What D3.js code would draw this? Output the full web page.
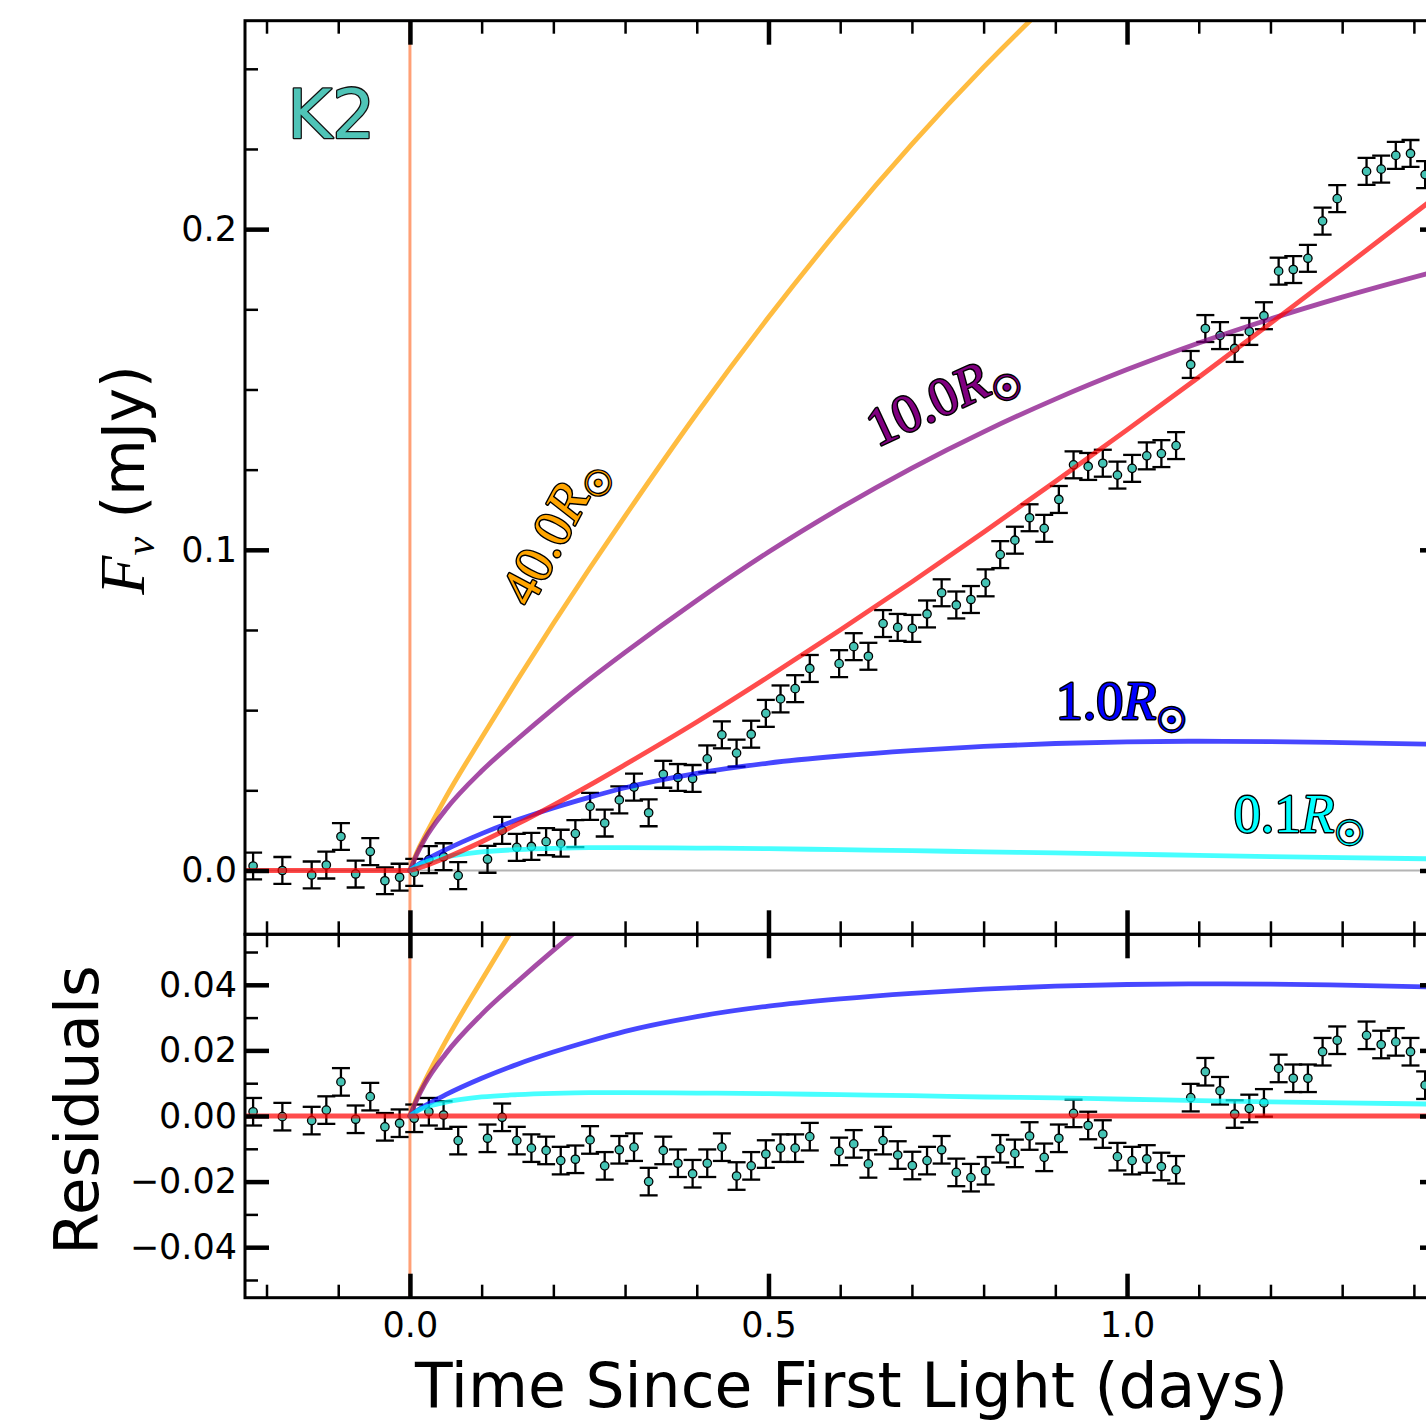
<!DOCTYPE html>
<html>
<head>
<meta charset="utf-8">
<script src="https://cdn.jsdelivr.net/npm/d3@7"></script>
<style>
  html, body { margin: 0; padding: 0; background: #ffffff; }
  svg { display: block; }
</style>
</head>
<body>
<svg id="chart" width="1426" height="1421"></svg>
<script>
// ---------------- K2 light curve: observation times (days since first light) ----------------
const obsTime = [
  -0.2187, -0.1779, -0.1370, -0.1166, -0.0962, -0.0757, -0.0553, -0.0349, -0.0144,
   0.0060,  0.0264,  0.0469,  0.0673,  0.1082,  0.1286,  0.1490,  0.1694,  0.1899,
   0.2103,  0.2307,  0.2512,  0.2716,  0.2920,  0.3125,  0.3329,  0.3533,  0.3737,
   0.3942,  0.4146,  0.4350,  0.4555,  0.4759,  0.4963,  0.5168,  0.5372,  0.5576,
   0.5985,  0.6189,  0.6393,  0.6598,  0.6802,  0.7006,  0.7211,  0.7415,  0.7619,
   0.7823,  0.8028,  0.8232,  0.8436,  0.8641,  0.8845,  0.9049,  0.9254,  0.9458,
   0.9662,  0.9866,  1.0071,  1.0275,  1.0479,  1.0684,  1.0888,  1.1092,  1.1297,
   1.1501,  1.1705,  1.1909,  1.2114,  1.2318,  1.2522,  1.2727,  1.2931,  1.3340,
   1.3544,  1.3748,  1.3953,  1.4157
];

// flux density (mJy)
const obsFlux = [
   0.0014,  0.0000, -0.0014,  0.0017,  0.0106, -0.0011,  0.0059, -0.0032, -0.0021,
  -0.0006,  0.0034,  0.0043, -0.0016,  0.0035,  0.0125,  0.0072,  0.0075,  0.0090,
   0.0085,  0.0115,  0.0200,  0.0148,  0.0220,  0.0260,  0.0180,  0.0300,  0.0290,
   0.0287,  0.0348,  0.0423,  0.0366,  0.0425,  0.0490,  0.0535,  0.0567,  0.0630,
   0.0645,  0.0698,  0.0668,  0.0770,  0.0758,  0.0755,  0.0800,  0.0866,  0.0828,
   0.0845,  0.0897,  0.0985,  0.1030,  0.1100,  0.1067,  0.1157,  0.1265,  0.1260,
   0.1270,  0.1233,  0.1254,  0.1293,  0.1300,  0.1325,  0.1578,  0.1690,  0.1668,
   0.1628,  0.1681,  0.1730,  0.1869,  0.1874,  0.1909,  0.2025,  0.2095,  0.2180,
   0.2187,  0.2230,  0.2236,  0.2170
];

// residuals relative to the power-law fit (mJy)
const obsResid = [
   0.0013, -0.0002, -0.0014,  0.0018,  0.0104, -0.0010,  0.0059, -0.0033, -0.0022,
  -0.0007,  0.0013,  0.0003, -0.0075, -0.0068, -0.0004, -0.0075, -0.0098, -0.0105,
  -0.0136, -0.0132, -0.0073, -0.0152, -0.0103, -0.0095, -0.0200, -0.0105, -0.0144,
  -0.0176, -0.0144, -0.0095, -0.0183, -0.0152, -0.0116, -0.0098, -0.0098, -0.0063,
  -0.0108, -0.0085, -0.0146, -0.0075, -0.0119, -0.0151, -0.0136, -0.0103, -0.0172,
  -0.0188, -0.0167, -0.0100, -0.0114, -0.0061, -0.0126, -0.0068,  0.0008, -0.0029,
  -0.0055, -0.0124, -0.0136, -0.0131, -0.0154, -0.0164,  0.0056,  0.0135,  0.0077,
   0.0006,  0.0023,  0.0040,  0.0145,  0.0115,  0.0115,  0.0196,  0.0231,  0.0246,
   0.0218,  0.0226,  0.0196,  0.0094
];

// 1-sigma flux uncertainty per cadence (mJy)
const fluxErr = 0.0042;

// ---------------- model curves (sampled after first light) ----------------
const modelTime = [0, 0.01, 0.02, 0.05, 0.10, 0.15, 0.20, 0.25, 0.30, 0.40, 0.50,
                   0.60, 0.70, 0.80, 0.90, 1.00, 1.10, 1.20, 1.30, 1.44];

const model40 = [0, 0.0058, 0.0103, 0.0228, 0.0414, 0.0595, 0.0770, 0.0940, 0.1105, 0.1425, 0.1725,
                 0.2005, 0.2265, 0.2505, 0.2725, 0.2925, 0.3110, 0.3280, 0.3440, 0.3650];
const model10 = [0, 0.0052, 0.0095, 0.0190, 0.0310, 0.0410, 0.0505, 0.0595, 0.0680, 0.0842, 0.0993,
                 0.1130, 0.1255, 0.1368, 0.1470, 0.1562, 0.1645, 0.1720, 0.1788, 0.1874];
const model1  = [0, 0.0016, 0.0030, 0.0065, 0.0115, 0.0158, 0.0195, 0.0228, 0.0258, 0.0303, 0.0335,
                 0.0357, 0.0374, 0.0387, 0.0396, 0.0401, 0.0403, 0.0402, 0.0399, 0.0393];
const model01 = [0, 0.0015, 0.0025, 0.0042, 0.0058, 0.0065, 0.0069, 0.0071, 0.0071, 0.0070, 0.0068,
                 0.0065, 0.0062, 0.0058, 0.0055, 0.0051, 0.0047, 0.0043, 0.0040, 0.0036];
const fitModel = [0, 0.00058, 0.00133, 0.00394, 0.00895, 0.0145, 0.0204, 0.02655, 0.0330, 0.0463, 0.0604,
                  0.0750, 0.0900, 0.1055, 0.1213, 0.1374, 0.1538, 0.1706, 0.1876, 0.2117];

const radiusLabels = ["40.0", "10.0", "1.0", "0.1"];

// ---------------- axis ticks ----------------
const xMajor = [0, 0.5, 1.0];
const xMinor = [-0.2, -0.1, 0.1, 0.2, 0.3, 0.4, 0.6, 0.7, 0.8, 0.9, 1.1, 1.2, 1.3, 1.4];
const fluxMajor = [0, 0.1, 0.2];
const fluxMinor = [0.025, 0.05, 0.075, 0.125, 0.15, 0.175, 0.225, 0.25];
const residMajor = [-0.04, -0.02, 0, 0.02, 0.04];
const residMinor = [-0.05, -0.03, -0.01, 0.01, 0.03, 0.05];

// ---------------- layout ----------------
const svg = d3.select("#chart");
const L = 245, R = 1444, T = 20.7, M = 934.3, B = 1297.7;

const x = d3.scaleLinear().domain([-0.23, 1.442]).range([L, R]);
const yF = d3.scaleLinear().domain([-0.0199, 0.265]).range([M, T]);
const yR = d3.scaleLinear().domain([-0.0554, 0.0554]).range([B, M]);

const defs = svg.append("defs");
defs.append("clipPath").attr("id", "clipTop")
  .append("rect").attr("x", L).attr("y", T).attr("width", R - L).attr("height", M - T);
defs.append("clipPath").attr("id", "clipRes")
  .append("rect").attr("x", L).attr("y", M).attr("width", R - L).attr("height", B - M);

const pts = obsTime.map((t, i) => ({ t, f: obsFlux[i], r: obsResid[i] }));

const modelStyles = [
  { vals: model40, color: "#ffa500", op: 0.75 },
  { vals: model10, color: "#800080", op: 0.70 },
  { vals: model1,  color: "#0000ff", op: 0.72 },
  { vals: model01, color: "#00ffff", op: 0.72 }
];

function drawPanel(g, yScale, key, clipId, isTop) {
  const layer = g.append("g").attr("clip-path", `url(#${clipId})`);

  // first-light marker
  layer.append("line")
    .attr("x1", x(0)).attr("x2", x(0))
    .attr("y1", yScale.range()[0]).attr("y2", yScale.range()[1])
    .attr("stroke", "#ff8f5e").attr("stroke-opacity", 0.85).attr("stroke-width", 3);

  if (isTop) {
    layer.append("line")
      .attr("x1", L).attr("x2", R).attr("y1", yScale(0)).attr("y2", yScale(0))
      .attr("stroke", "#b4b4b4").attr("stroke-width", 2);
  }

  // error bars
  const eb = layer.append("g").attr("stroke", "#000").attr("stroke-width", 2.3);
  pts.forEach(p => {
    const v = p[key];
    const cx = x(p.t), y0 = yScale(v - fluxErr), y1 = yScale(v + fluxErr);
    eb.append("line").attr("x1", cx).attr("x2", cx).attr("y1", y0).attr("y2", y1);
    eb.append("line").attr("x1", cx - 9).attr("x2", cx + 9).attr("y1", y0).attr("y2", y0);
    eb.append("line").attr("x1", cx - 9).attr("x2", cx + 9).attr("y1", y1).attr("y2", y1);
  });
  layer.append("g").selectAll("circle").data(pts).join("circle")
    .attr("cx", d => x(d.t)).attr("cy", d => yScale(d[key]))
    .attr("r", 4.2).attr("fill", "#45c3b4").attr("stroke", "#000").attr("stroke-width", 1.3);

  // model curves
  const curve = d3.line().x((d, i) => x(modelTime[i])).y(d => yScale(d)).curve(d3.curveMonotoneX);
  const flat = d3.line().x(d => x(d)).y(() => yScale(0));
  modelStyles.forEach(m => {
    layer.append("path").attr("d", curve(m.vals))
      .attr("fill", "none").attr("stroke", m.color).attr("stroke-opacity", m.op)
      .attr("stroke-width", 4.8).attr("stroke-linecap", "round");
  });
  // power-law fit (zero in the residual panel)
  layer.append("path").attr("d", flat([x.domain()[0], 0]))
    .attr("fill", "none").attr("stroke", "#ff0000").attr("stroke-opacity", 0.7).attr("stroke-width", 4.8);
  if (isTop) {
    layer.append("path").attr("d", curve(fitModel))
      .attr("fill", "none").attr("stroke", "#ff0000").attr("stroke-opacity", 0.7).attr("stroke-width", 4.8);
  } else {
    layer.append("path").attr("d", flat([0, x.domain()[1]]))
      .attr("fill", "none").attr("stroke", "#ff0000").attr("stroke-opacity", 0.7).attr("stroke-width", 4.8);
  }
}

const gTop = svg.append("g");
const gRes = svg.append("g");
drawPanel(gTop, yF, "f", "clipTop", true);
drawPanel(gRes, yR, "r", "clipRes", false);

// ---------------- annotations ----------------
svg.append("text")
  .attr("x", x(-0.171)).attr("y", yF(0.2285))
  .attr("font-family", "DejaVu Sans").attr("font-size", 68)
  .attr("fill", "#4fc4b7").attr("stroke", "#111").attr("stroke-width", 2.6)
  .attr("paint-order", "stroke").attr("stroke-linejoin", "round")
  .text("K2");

function radiusLabel(t, f, angle, num, color) {
  const g = svg.append("g")
    .attr("transform", `translate(${x(t)},${yF(f)}) rotate(${angle})`);
  const txt = g.append("text").attr("text-anchor", "middle").attr("y", 18)
    .attr("font-family", "Liberation Serif").attr("font-size", 54)
    .attr("fill", color).attr("stroke", "#000").attr("stroke-width", 2.8)
    .attr("paint-order", "stroke").attr("stroke-linejoin", "round");
  txt.append("tspan").text(num);
  txt.append("tspan").attr("font-style", "italic").text("R");
  txt.append("tspan").attr("font-family", "DejaVu Sans").attr("font-size", 34).attr("dy", 13).text("\u2609");
}
radiusLabel(0.198, 0.106, -62, radiusLabels[0], "#ffa500");
radiusLabel(0.741, 0.1475, -25, radiusLabels[1], "#800080");
radiusLabel(0.992, 0.0529, 0, radiusLabels[2], "#0000ff");
radiusLabel(1.240, 0.0176, 0, radiusLabels[3], "#00ffff");

// ---------------- axes ----------------
function tickSet(parent, axisFn, scale, values, len, width, fmt, pad) {
  const a = axisFn(scale).tickValues(values).tickSizeInner(-len).tickSizeOuter(0)
    .tickPadding(pad || 8).tickFormat(fmt || (() => ""));
  const g = parent.append("g").call(a);
  g.attr("font-family", "DejaVu Sans").attr("font-size", 35);
  g.select(".domain").remove();
  g.selectAll(".tick line").attr("stroke", "#000").attr("stroke-width", width);
  g.selectAll(".tick text").attr("fill", "#000");
  return g;
}

const axesLayer = svg.append("g");
const f1 = d3.format(".1f"), f2 = d3.format(".2f");

// top panel
[[d3.axisTop, T], [d3.axisBottom, M]].forEach(([fn, yy]) => {
  const g = axesLayer.append("g").attr("transform", `translate(0,${yy})`);
  tickSet(g, fn, x, xMajor, 24, 4.5);
  tickSet(g, fn, x, xMinor, 13, 2.5);
});
{
  const gl = axesLayer.append("g").attr("transform", `translate(${L},0)`);
  tickSet(gl, d3.axisLeft, yF, fluxMajor, 24, 4.5, f1, 8);
  tickSet(gl, d3.axisLeft, yF, fluxMinor, 13, 2.5);
  const gr = axesLayer.append("g").attr("transform", `translate(${R},0)`);
  tickSet(gr, d3.axisRight, yF, fluxMajor, 24, 4.5);
  tickSet(gr, d3.axisRight, yF, fluxMinor, 13, 2.5);
}

// residual panel
{
  const gt = axesLayer.append("g").attr("transform", `translate(0,${M})`);
  tickSet(gt, d3.axisTop, x, xMajor, 24, 4.5);
  tickSet(gt, d3.axisTop, x, xMinor, 13, 2.5);
  const gb = axesLayer.append("g").attr("transform", `translate(0,${B})`);
  tickSet(gb, d3.axisBottom, x, xMajor, 24, 4.5, f1, 14);
  tickSet(gb, d3.axisBottom, x, xMinor, 13, 2.5);
  const gl = axesLayer.append("g").attr("transform", `translate(${L},0)`);
  tickSet(gl, d3.axisLeft, yR, residMajor, 24, 4.5, f2, 8);
  tickSet(gl, d3.axisLeft, yR, residMinor, 13, 2.5);
  const gr = axesLayer.append("g").attr("transform", `translate(${R},0)`);
  tickSet(gr, d3.axisRight, yR, residMajor, 24, 4.5);
  tickSet(gr, d3.axisRight, yR, residMinor, 13, 2.5);
}

// frames
[[T, M], [M, B]].forEach(([a, b]) => {
  axesLayer.append("rect").attr("x", L).attr("y", a).attr("width", R - L).attr("height", b - a)
    .attr("fill", "none").attr("stroke", "#000").attr("stroke-width", 3);
});

// axis titles
svg.append("text")
  .attr("x", (L + R) / 2 + 7).attr("y", 1407)
  .attr("text-anchor", "middle").attr("font-family", "DejaVu Sans").attr("font-size", 61.6)
  .attr("fill", "#000").text("Time Since First Light (days)");

svg.append("text")
  .attr("transform", `translate(98,${yR(0) - 6}) rotate(-90)`)
  .attr("text-anchor", "middle").attr("font-family", "DejaVu Sans").attr("font-size", 61)
  .attr("fill", "#000").text("Residuals");

const yl = svg.append("text")
  .attr("transform", "translate(144,480) rotate(-90)")
  .attr("text-anchor", "middle").attr("fill", "#000");
yl.append("tspan").attr("font-family", "Liberation Serif").attr("font-style", "italic")
  .attr("font-size", 64).text("F");
yl.append("tspan").attr("font-family", "Liberation Serif").attr("font-style", "italic")
  .attr("font-size", 42).attr("dy", 10).text("\u03bd");
yl.append("tspan").attr("font-family", "DejaVu Sans").attr("font-size", 58).attr("dy", -10).text(" (mJy)");
</script>
</body>
</html>
